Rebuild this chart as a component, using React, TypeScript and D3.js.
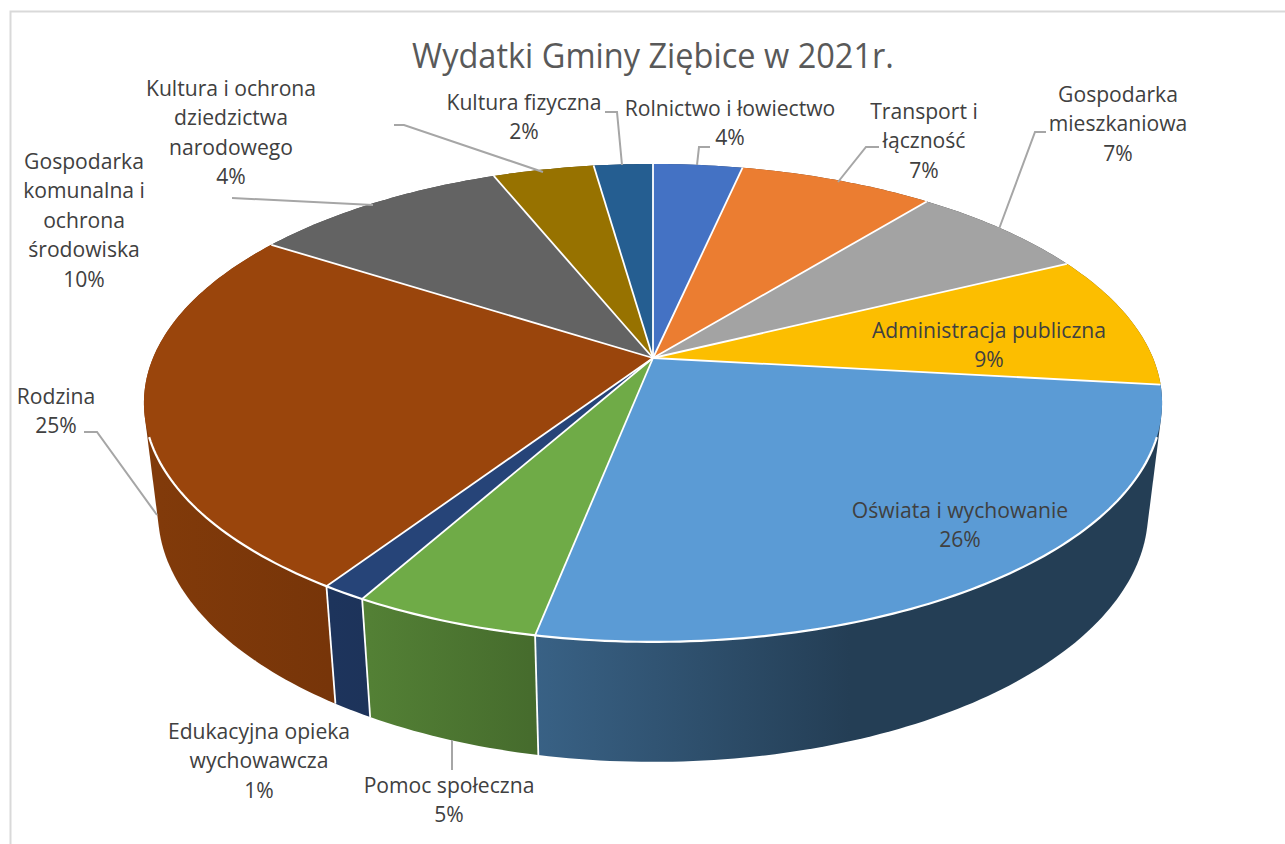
import React from "react";
import * as d3 from "d3";

const categories = ["Rolnictwo i łowiectwo","Transport i łączność","Gospodarka mieszkaniowa","Administracja publiczna","Oświata i wychowanie","Pomoc społeczna","Edukacyjna opieka wychowawcza","Rodzina","Gospodarka komunalna i ochrona środowiska","Kultura i ochrona dziedzictwa narodowego","Kultura fizyczna"];
const values = [3.4,7.4,6.9,9.1,26.28,5,1.2,24.82,9.8,3.85,2.25];
const colors = ["#4472C4","#EB7D31","#A3A3A3","#FCBE00","#5B9BD5","#6FAB47","#264478","#9A450C","#636363","#977200","#255E91"];
const percentLabels = ["4%","7%","7%","9%","26%","5%","1%","25%","10%","4%","2%"];
const labelLines = [
  ["Rolnictwo i łowiectwo"],["Transport i","łączność"],["Gospodarka","mieszkaniowa"],["Administracja publiczna"],
  ["Oświata i wychowanie"],["Pomoc społeczna"],["Edukacyjna opieka","wychowawcza"],["Rodzina"],
  ["Gospodarka","komunalna i","ochrona","środowiska"],["Kultura i ochrona","dziedzictwa","narodowego"],["Kultura fizyczna"],
];
const labelCenterX = [730,924,1118,989,960,449,259,56,84,231,524];
const labelTopBaseline = [116,119,102,338,518,793,739,404,169,96,110];
const leaders: [number,number][][] = [
  [[697,165],[699,147],[710,147]],
  [[838,182],[866,147],[879,147]],
  [[999,229],[1035,132],[1046,132]],
  [],[],
  [[452,740],[452,770]],
  [],
  [[157,515],[97,432],[84,432]],
  [[373,205],[232,198]],
  [[543,172],[404,125],[394,125]],
  [[622,165],[617,112],[605,112]],
];
const title = "Wydatki Gminy Ziębice w 2021r.";

const FONT = "'Open Sans', 'Noto Sans', sans-serif";
const LABEL_SIZE = 22, LABEL_SQUEEZE = 0.96;
const TITLE_SIZE = 35, TITLE_SQUEEZE = 0.93;
const LINE_H = 29.4;
const apexX = 653, apexY = 358, A = 500, B = 230.5, K = -0.188;
const topCy = 403, topRy = 239, wallCy = 512, wallRy = 250, wallXScale = 0.9725;

function top(theta: number): [number, number] {
  const u = Math.sin(theta), v = -Math.cos(theta), w = 1 + K * v;
  return [apexX + (A * u) / w, apexY + (B * v) / w];
}
function bottom(theta: number): [number, number] {
  const [x, y] = top(theta);
  return [apexX + (x - apexX) * wallXScale, wallCy + ((y - topCy) * wallRy) / topRy];
}
function samples(a0: number, a1: number): number[] {
  const n = Math.max(2, Math.ceil(((a1 - a0) / (2 * Math.PI)) * 360));
  return d3.range(n + 1).map((i) => a0 + ((a1 - a0) * i) / n);
}
const line = d3.line();
const shade = d3.scaleLinear().domain([144, 160, 330, 370, 530, 850, 1163]).range([0.84, 0.84, 0.77, 0.75, 0.63, 0.4, 0.4]);
const shadeStops = [144, 160, 330, 370, 530, 700, 850, 1163];

export default function App() {
  const arcs = d3.pie<number>().sort(null).startAngle(0).endAngle(2 * Math.PI)(values);
  const rimStart = (108.8 * Math.PI) / 180, rimEnd = (251.2 * Math.PI) / 180;
  const walls = arcs
    .map((a, i) => ({ a, i, d: -Math.cos((a.startAngle + a.endAngle) / 2) }))
    .sort((p, q) => p.d - q.d);
  return (
    <svg width={1285} height={844} style={{ position: "absolute", left: 0, top: 0, background: "#fff" }}>
      <defs>
        {colors.map((c, i) => (
          <linearGradient key={i} id={`wall${i}`} gradientUnits="userSpaceOnUse" x1={144} x2={1163} y1={0} y2={0}>
            {shadeStops.map((x) => {
              const rgb = d3.rgb(c), f = shade(x);
              return <stop key={x} offset={(x - 144) / (1163 - 144)} stopColor={d3.rgb(rgb.r * f, rgb.g * f, rgb.b * f).formatHex()} />;
            })}
          </linearGradient>
        ))}
      </defs>
      <path d="M10.5 844V11.5H1285" fill="none" stroke="#d9d9d9" strokeWidth={2} />
      {walls.map(({ a, i }) => {
        const ts = samples(a.startAngle, a.endAngle);
        const hull = d3.polygonHull([...ts.map(top), ...ts.map(bottom)]);
        return <path key={i} d={line(hull!) + "Z"} fill={`url(#wall${i})`} />;
      })}
      {arcs.map((a) => {
        if (-Math.cos(a.startAngle) < 0.5) return null;
        return <path key={a.index} d={line([top(a.startAngle), bottom(a.startAngle)])!} stroke="#fff" strokeWidth={1.8} fill="none" />;
      })}
      {arcs.map((a, i) => {
        const pts: [number, number][] = [[apexX, apexY], ...samples(a.startAngle, a.endAngle).map(top)];
        return <path key={i} d={line(pts) + "Z"} fill={colors[i]} />;
      })}
      {arcs.map((a) => (
        <path key={a.index} d={line([[apexX, apexY], top(a.startAngle)])!} stroke="#fff" strokeWidth={1.8} fill="none" />
      ))}
      <path d={line(samples(rimStart, rimEnd).map(top))!} stroke="#fff" strokeWidth={2.2} fill="none" />
      {leaders.map((l, i) => l.length > 0 && (
        <path key={i} d={line(l)!} stroke="#a6a6a6" strokeWidth={2} fill="none" />
      ))}
      <text transform={`translate(653,68) scale(${TITLE_SQUEEZE},1)`} textAnchor="middle" fontFamily={FONT} fontSize={TITLE_SIZE} fill="#595959">{title}</text>
      {categories.map((c, i) => (
        <g key={c} fontFamily={FONT} fontSize={LABEL_SIZE} fill="#404040" textAnchor="middle">
          {[...labelLines[i], percentLabels[i]].map((t, j) => (
            <text key={j} transform={`translate(${labelCenterX[i]},${labelTopBaseline[i] + j * LINE_H}) scale(${LABEL_SQUEEZE},1)`}>{t}</text>
          ))}
        </g>
      ))}
    </svg>
  );
}
